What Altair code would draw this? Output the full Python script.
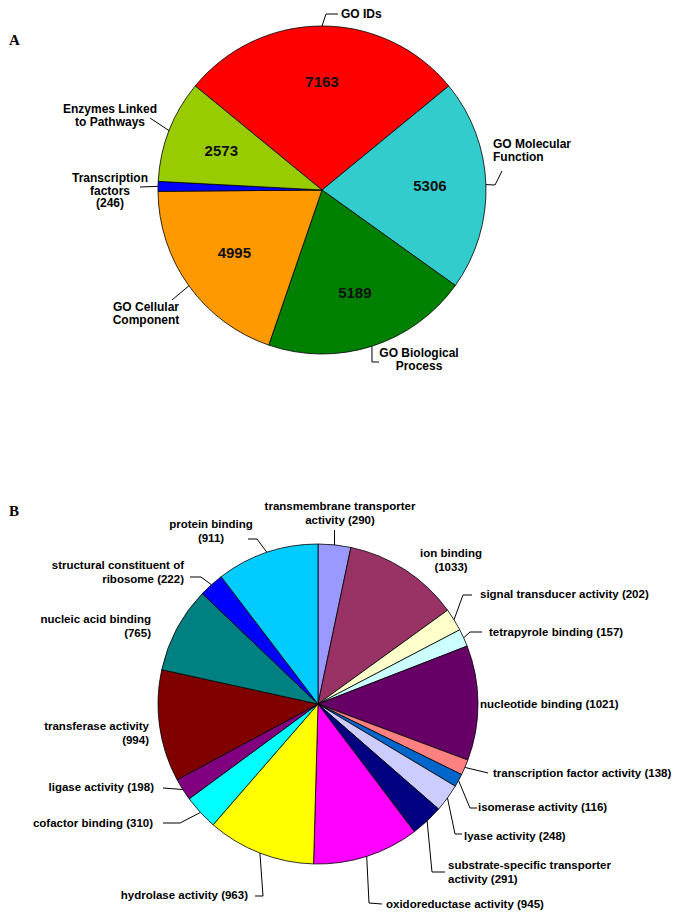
import math
import altair as alt
import pandas as pd
import numpy as np

# ---------------- data ----------------
a_names = ["GO IDs", "GO Molecular Function", "GO Biological Process",
           "GO Cellular Component", "Transcription factors", "Enzymes Linked to Pathways"]
a_values = [7163, 5306, 5189, 4995, 246, 2573]
a_colors = ["#FF0000", "#33CCCC", "#008000", "#FF9900", "#0000FF", "#99CC00"]

b_names = ["transmembrane transporter activity", "ion binding", "signal transducer activity",
           "tetrapyrole binding", "nucleotide binding", "transcription factor activity",
           "isomerase activity", "lyase activity", "substrate-specific transporter activity",
           "oxidoreductase activity", "hydrolase activity", "cofactor binding",
           "ligase activity", "transferase activity", "nucleic acid binding",
           "structural constituent of ribosome", "protein binding"]
b_values = [290, 1033, 202, 157, 1021, 138, 116, 248, 291, 945, 963, 310, 198, 994, 765, 222, 911]
b_colors = ["#9999FF", "#993366", "#FFFFCC", "#CCFFFF", "#660066", "#FF8080", "#0066CC",
            "#CCCCFF", "#000080", "#FF00FF", "#FFFF00", "#00FFFF", "#800080", "#800000",
            "#008080", "#0000FF", "#00CCFF"]

# ---------------- layout (page pixel coordinates) ----------------
W, H = 669, 903
OX, OY = 8, 8
a_center, a_radius, a_value_radius = (322, 190), 164, 108
b_center, b_radius = (318, 704), 160

a_show_value = [False, False, False, False, True, False]
a_cuts = [[], [2], [2], [2], [1, 1], [2]]
a_anchor = [("left", 341, 14), ("left", 493, 144), ("center", 419, 353),
            ("center", 146, 307), ("center", 110, 178), ("center", 110, 109)]
a_leader = [[(326, 14), (338, 14)], [(495, 185), (502, 171)], [(372, 362), (379, 362)],
            [(172, 300)], [(140, 187)], [(150, 118)]]

b_cuts = [[2], [2], [], [], [], [], [], [], [2], [], [], [], [], [2], [3], [3], [2]]
b_anchor = [("center", 340, 506), ("center", 451, 553), ("left", 480, 594),
            ("left", 489, 632), ("left", 480, 704), ("left", 493, 773),
            ("left", 478, 807), ("left", 464, 836), ("left", 448, 865),
            ("left", 386, 904), ("right", 248, 895), ("right", 153, 823),
            ("right", 154, 787), ("right", 149, 726), ("right", 151, 619),
            ("right", 184, 565), ("center", 211, 524)]
b_leader = [[(None, 530)], [], [(463, 595), (472, 595)], [(470, 632), (482, 632)], [],
            [(488, 773)], [(470, 808), (477, 808)], [(455, 834), (462, 834)],
            [(432, 872), (445, 872)], [(369, 903), (382, 904)], [(263, 896), (255, 896)],
            [(180, 823), (163, 823)], [(163, 788)], [], [], [(201, 577), (190, 577)],
            [(257, 539), (248, 539)]]

SANS = "Liberation Sans"
SERIF = "Liberation Serif"


def wrap(text, cuts):
    words = text.split(" ")
    lines, i = [], 0
    for c in cuts:
        lines.append(" ".join(words[i:i + c]))
        i += c
    lines.append(" ".join(words[i:]))
    return "\n".join(l for l in lines if l)


def pie_frames(names, values, center, radius, start, labels, cuts, anchors, leaders, panel):
    total = float(sum(values))
    cum = np.cumsum(values)
    t0 = cum - np.array(values)
    mid = start + 2 * math.pi * (t0 + np.array(values) / 2.0) / total
    arcs = pd.DataFrame({"name": names, "value": values, "t0": t0, "t1": cum,
                         "cx": center[0], "cy": center[1], "mid": mid})
    texts, segs = [], []
    for i, n in enumerate(names):
        al, x, y = anchors[i]
        texts.append({"text": wrap(labels[i], cuts[i]), "x": x, "y": y, "align": al, "panel": panel})
        pts = [(center[0] + radius * math.sin(mid[i]), center[1] - radius * math.cos(mid[i]))]
        for px, py in leaders[i]:
            px = pts[-1][0] if px is None else px
            py = pts[-1][1] if py is None else py
            pts.append((px, py))
        for (x1, y1), (x2, y2) in zip(pts[:-1], pts[1:]):
            segs.append({"x": x1, "y": y1, "x2": x2, "y2": y2})
    return arcs, total, pd.DataFrame(texts), pd.DataFrame(segs)


a_start = -math.pi * a_values[0] / sum(a_values)
a_lab = [n + (f" ({v})" if s else "") for n, v, s in zip(a_names, a_values, a_show_value)]
b_lab = [f"{n} ({v})" for n, v in zip(b_names, b_values)]

a_arcs, a_total, a_txt, a_seg = pie_frames(a_names, a_values, a_center, a_radius, a_start,
                                           a_lab, a_cuts, a_anchor, a_leader, "A")
b_arcs, b_total, b_txt, b_seg = pie_frames(b_names, b_values, b_center, b_radius, 0.0,
                                           b_lab, b_cuts, b_anchor, b_leader, "B")

a_vals = a_arcs.assign(x=a_center[0] + a_value_radius * np.sin(a_arcs["mid"]),
                       y=a_center[1] - a_value_radius * np.cos(a_arcs["mid"]),
                       text=a_arcs["value"].astype(str))
a_vals = a_vals[a_vals["value"] > 1000]

xs = alt.Scale(domain=[OX, OX + W], nice=False, zero=False)
ys = alt.Scale(domain=[OY, OY + H], nice=False, zero=False, reverse=True)
cs = alt.Scale(domain=a_names + b_names, range=a_colors + b_colors)


def arc_layer(df, total, start, radius):
    return alt.Chart(df).mark_arc(radius=radius, stroke="#000000", strokeWidth=0.8).encode(
        theta=alt.Theta("t0:Q", scale=alt.Scale(domain=[0, total], range=[start, start + 2 * math.pi])),
        theta2="t1:Q",
        x=alt.X("cx:Q", scale=xs, axis=None),
        y=alt.Y("cy:Q", scale=ys, axis=None),
        color=alt.Color("name:N", scale=cs, legend=None),
    )


def text_layer(df, align, size, lh, font=SANS, dy=-5, baseline="top"):
    return alt.Chart(df).mark_text(align=align, baseline=baseline, font=font, fontWeight="bold",
                                   fontSize=size, lineHeight=lh, lineBreak="\n", dy=dy,
                                   color="#000000").encode(
        x=alt.X("x:Q", scale=xs, axis=None),
        y=alt.Y("y:Q", scale=ys, axis=None),
        text="text:N",
    )


def seg_layer(df):
    return alt.Chart(df).mark_rule(color="#000000", strokeWidth=1).encode(
        x=alt.X("x:Q", scale=xs, axis=None), y=alt.Y("y:Q", scale=ys, axis=None),
        x2="x2:Q", y2="y2:Q")


layers = [arc_layer(a_arcs, a_total, a_start, a_radius),
          arc_layer(b_arcs, b_total, 0.0, b_radius),
          seg_layer(pd.concat([a_seg, b_seg], ignore_index=True))]

for al in ["left", "center", "right"]:
    sub = a_txt[a_txt["align"] == al]
    if len(sub):
        layers.append(text_layer(sub, al, 12, 12.5))
    sub = b_txt[b_txt["align"] == al]
    if len(sub):
        layers.append(text_layer(sub, al, 11.5, 14))

layers.append(alt.Chart(a_vals).mark_text(align="center", baseline="middle", font=SANS,
                                          fontWeight="bold", fontSize=15, color="#111111").encode(
    x=alt.X("x:Q", scale=xs, axis=None), y=alt.Y("y:Q", scale=ys, axis=None), text="text:N"))

panels = pd.DataFrame({"text": ["A", "B"], "x": [9, 9], "y": [40, 511]})
layers.append(alt.Chart(panels).mark_text(align="left", baseline="middle", font=SERIF,
                                          fontWeight="bold", fontSize=15, color="#000000").encode(
    x=alt.X("x:Q", scale=xs, axis=None), y=alt.Y("y:Q", scale=ys, axis=None), text="text:N"))

chart = alt.layer(*layers).resolve_scale(theta="independent").properties(
    width=W, height=H, padding=0, autosize="none"
).configure_view(strokeWidth=0)

chart.save("out.html", embed_options={"renderer": "svg", "actions": False})
